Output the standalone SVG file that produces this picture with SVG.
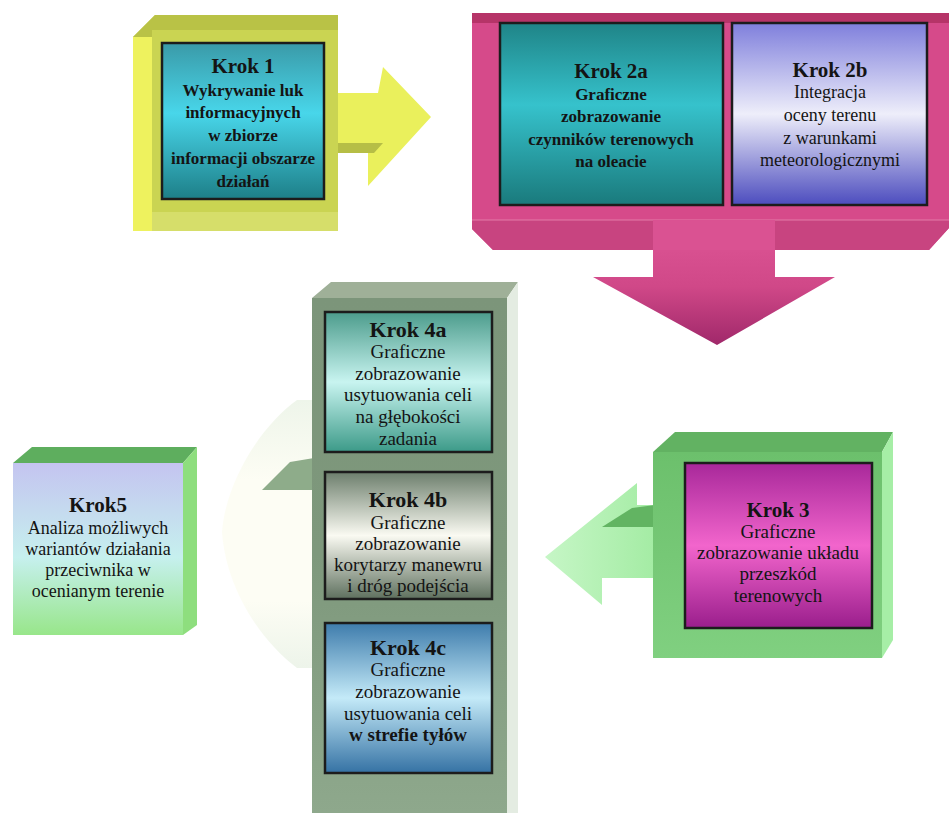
<svg xmlns="http://www.w3.org/2000/svg" width="949" height="813" viewBox="0 0 949 813">
  <defs>
    <style>
      text { font-family: "Liberation Serif", "Times New Roman", serif; text-anchor: middle; fill: #141414; }
      .t { font-weight: bold; font-size: 21px; }
      .t4 { font-weight: bold; font-size: 22px; }
      .b { font-size: 18px; }
      .bb { font-size: 17px; font-weight: bold; }
      .b4 { font-size: 19px; }
      .inner { stroke: #1c1c1c; stroke-width: 2.5; }
    </style>
    <linearGradient id="gCyan" x1="0" y1="0" x2="0" y2="1">
      <stop offset="0" stop-color="#3a9aa8"/>
      <stop offset="0.45" stop-color="#48d6ea"/>
      <stop offset="1" stop-color="#1d7f88"/>
    </linearGradient>
    <linearGradient id="gTeal" x1="0" y1="0" x2="0" y2="1">
      <stop offset="0" stop-color="#1f8487"/>
      <stop offset="0.45" stop-color="#36c2cc"/>
      <stop offset="1" stop-color="#1a7a7c"/>
    </linearGradient>
    <linearGradient id="gLav" x1="0" y1="0" x2="0" y2="1">
      <stop offset="0" stop-color="#7f7fdc"/>
      <stop offset="0.5" stop-color="#eeeefa"/>
      <stop offset="1" stop-color="#4c4cbe"/>
    </linearGradient>
    <linearGradient id="gMag" x1="0" y1="0" x2="0" y2="1">
      <stop offset="0" stop-color="#a8289a"/>
      <stop offset="0.5" stop-color="#f265cc"/>
      <stop offset="1" stop-color="#9a1e8c"/>
    </linearGradient>
    <linearGradient id="g4a" x1="0" y1="0" x2="0" y2="1">
      <stop offset="0" stop-color="#4c9c8c"/>
      <stop offset="0.5" stop-color="#c8f4f0"/>
      <stop offset="1" stop-color="#3c9a88"/>
    </linearGradient>
    <linearGradient id="g4b" x1="0" y1="0" x2="0" y2="1">
      <stop offset="0" stop-color="#6c7e6c"/>
      <stop offset="0.5" stop-color="#fafaf2"/>
      <stop offset="1" stop-color="#5e705e"/>
    </linearGradient>
    <linearGradient id="g4c" x1="0" y1="0" x2="0" y2="1">
      <stop offset="0" stop-color="#3e7cac"/>
      <stop offset="0.5" stop-color="#c4eaf8"/>
      <stop offset="1" stop-color="#3572a4"/>
    </linearGradient>
    <linearGradient id="g5" x1="0" y1="0" x2="0" y2="1">
      <stop offset="0" stop-color="#c4c4f0"/>
      <stop offset="0.55" stop-color="#c6f0ee"/>
      <stop offset="1" stop-color="#98e68a"/>
    </linearGradient>
    <linearGradient id="gGrey" x1="0" y1="0" x2="0" y2="1">
      <stop offset="0" stop-color="#7c957a"/>
      <stop offset="0.5" stop-color="#7e987c"/>
      <stop offset="1" stop-color="#8ea88c"/>
    </linearGradient>
    <linearGradient id="gPinkArrow" x1="0" y1="0" x2="0" y2="1">
      <stop offset="0" stop-color="#e05898"/>
      <stop offset="0.55" stop-color="#d04888"/>
      <stop offset="1" stop-color="#a0286a"/>
    </linearGradient>
    <linearGradient id="gGreenArrow" x1="0" y1="0" x2="1" y2="0">
      <stop offset="0" stop-color="#c6f6c6"/>
      <stop offset="1" stop-color="#a4eca4"/>
    </linearGradient>
    <linearGradient id="gFaint" x1="0" y1="0" x2="0" y2="1">
      <stop offset="0" stop-color="#eef5ea"/>
      <stop offset="0.3" stop-color="#fdfdf4"/>
      <stop offset="0.75" stop-color="#fdfdf4"/>
      <stop offset="1" stop-color="#edf4ea"/>
    </linearGradient>
    <linearGradient id="gGreenBox" x1="0" y1="0" x2="0" y2="1">
      <stop offset="0" stop-color="#6cc06c"/>
      <stop offset="1" stop-color="#80d080"/>
    </linearGradient>
  </defs>

  <rect width="949" height="813" fill="#ffffff"/>

  <!-- connectors: the block arrows between steps -->
  <g id="connectors">
    <!-- step 1 to step 2 -->
    <polygon points="336,93 378,93 383,67 431,117 368,186 368,152 336,152" fill="#eaf05c"/>
    <polygon points="336,143 383,143 374,153 336,153" fill="#b6be46"/>
    <!-- step 2 down to step 3 -->
    <polygon points="653,215 775,215 775,277 835,277 717,345 593,277 653,277" fill="url(#gPinkArrow)"/>
    <!-- step 3 to step 4 -->
    <polygon points="545,557 637,483 637,505 655,505 655,578 602,578 602,605" fill="url(#gGreenArrow)"/>
    <polygon points="602,527 632,508 655,505 655,527" fill="#62b462"/>
    <!-- step 4 to step 5 -->
    <path d="M314,400 L297,400 C262,425 226,480 222,532 C226,590 262,642 297,668 L314,668 Z" fill="url(#gFaint)"/>
    <polygon points="262,490 290,462 314,458 314,490" fill="#8eac8a"/>
  </g>

  <!-- Step 1 -->
  <g id="krok1">
    <polygon points="133,37 155,15 338,15 338,231 133,231" fill="#cad452"/>
    <polygon points="133,37 155,15 338,15 338,30 152,30 152,37" fill="#b9c246"/>
    <polygon points="133,37 152,37 152,231 133,231" fill="#eef25e"/>
    <rect x="152" y="212" width="186" height="19" fill="#d6de6a"/>
    <rect x="162" y="43" width="162" height="156" fill="url(#gCyan)" class="inner"/>
    <text x="243" y="73" class="t">Krok 1</text>
    <text x="243" y="96" class="bb">Wykrywanie luk</text>
    <text x="243" y="118" class="bb">informacyjnych</text>
    <text x="243" y="141" class="bb">w zbiorze</text>
    <text x="243" y="164" class="bb">informacji obszarze</text>
    <text x="243" y="187" class="bb">działań</text>
  </g>

  <!-- Step 2a / 2b in a shared frame -->
  <g id="krok2">
    <polygon points="472,13 949,13 949,228 929,250 493,250 472,229" fill="#d64a8a"/>
    <rect x="472" y="13" width="477" height="10" fill="#b63468"/>
    <polygon points="472,220 949,220 949,228 929,250 493,250 472,229" fill="#c84480"/>
    <line x1="472" y1="220" x2="949" y2="220" stroke="#e47aa8" stroke-width="1"/>
    <rect x="653" y="220" width="122" height="30" fill="#da5292"/>
  </g>
  <g id="krok2a">
    <rect x="500" y="23" width="223" height="182" fill="url(#gTeal)" class="inner"/>
    <text x="611" y="78" class="t">Krok 2a</text>
    <text x="611" y="100" class="bb">Graficzne</text>
    <text x="611" y="122" class="bb">zobrazowanie</text>
    <text x="611" y="145" class="bb">czynników terenowych</text>
    <text x="611" y="167" class="bb">na oleacie</text>
  </g>
  <g id="krok2b">
    <rect x="732" y="23" width="195" height="182" fill="url(#gLav)" class="inner"/>
    <text x="830" y="77" class="t">Krok 2b</text>
    <text x="830" y="98" class="b">Integracja</text>
    <text x="830" y="121" class="b">oceny terenu</text>
    <text x="830" y="144" class="b">z warunkami</text>
    <text x="830" y="166" class="b">meteorologicznymi</text>
  </g>

  <!-- Step 3 -->
  <g id="krok3">
    <polygon points="653,452 675,432 893,432 882,452" fill="#62b262"/>
    <polygon points="882,452 893,432 893,640 882,658" fill="#a6eea6"/>
    <rect x="653" y="452" width="229" height="206" fill="url(#gGreenBox)"/>
    <rect x="685" y="463" width="187" height="165" fill="url(#gMag)" class="inner"/>
    <text x="778" y="517" class="t">Krok 3</text>
    <text x="778" y="538" class="b4">Graficzne</text>
    <text x="778" y="559" class="b4">zobrazowanie układu</text>
    <text x="778" y="580" class="b4">przeszkód</text>
    <text x="778" y="602" class="b4">terenowych</text>
  </g>

  <!-- Step 4: tall frame holding 4a, 4b, 4c -->
  <g id="krok4">
    <polygon points="312,298 331,282 518,282 507,298" fill="#9fb098"/>
    <polygon points="507,298 518,282 518,813 507,813" fill="#e4ece2"/>
    <rect x="312" y="298" width="195" height="515" fill="url(#gGrey)"/>
  </g>
  <g id="krok4a">
    <rect x="325" y="312" width="167" height="140" fill="url(#g4a)" class="inner"/>
    <text x="408" y="337" class="t4">Krok 4a</text>
    <text x="408" y="358" class="b4">Graficzne</text>
    <text x="408" y="380" class="b4">zobrazowanie</text>
    <text x="408" y="401" class="b4">usytuowania celi</text>
    <text x="408" y="423" class="b4">na głębokości</text>
    <text x="408" y="445" class="b4">zadania</text>
  </g>
  <g id="krok4b">
    <rect x="325" y="472" width="167" height="127" fill="url(#g4b)" class="inner"/>
    <text x="408" y="507" class="t4">Krok 4b</text>
    <text x="408" y="529" class="b4">Graficzne</text>
    <text x="408" y="550" class="b4">zobrazowanie</text>
    <text x="408" y="571" class="b4">korytarzy manewru</text>
    <text x="408" y="592" class="b4">i dróg podejścia</text>
  </g>
  <g id="krok4c">
    <rect x="325" y="623" width="167" height="150" fill="url(#g4c)" class="inner"/>
    <text x="408" y="655" class="t4">Krok 4c</text>
    <text x="408" y="676" class="b4">Graficzne</text>
    <text x="408" y="698" class="b4">zobrazowanie</text>
    <text x="408" y="720" class="b4">usytuowania celi</text>
    <text x="408" y="741" class="b4" font-weight="bold">w strefie tyłów</text>
  </g>

  <!-- Step 5 -->
  <g id="krok5">
    <polygon points="13,463 32,447 197,447 183,463" fill="#5eae5e"/>
    <polygon points="183,463 197,447 197,625 183,635" fill="#8ede7e"/>
    <rect x="13" y="463" width="170" height="172" fill="url(#g5)"/>
    <text x="98" y="512" class="t">Krok5</text>
    <text x="98" y="534" class="b">Analiza możliwych</text>
    <text x="98" y="555" class="b">wariantów działania</text>
    <text x="98" y="576" class="b">przeciwnika w</text>
    <text x="98" y="597" class="b">ocenianym terenie</text>
  </g>
</svg>
